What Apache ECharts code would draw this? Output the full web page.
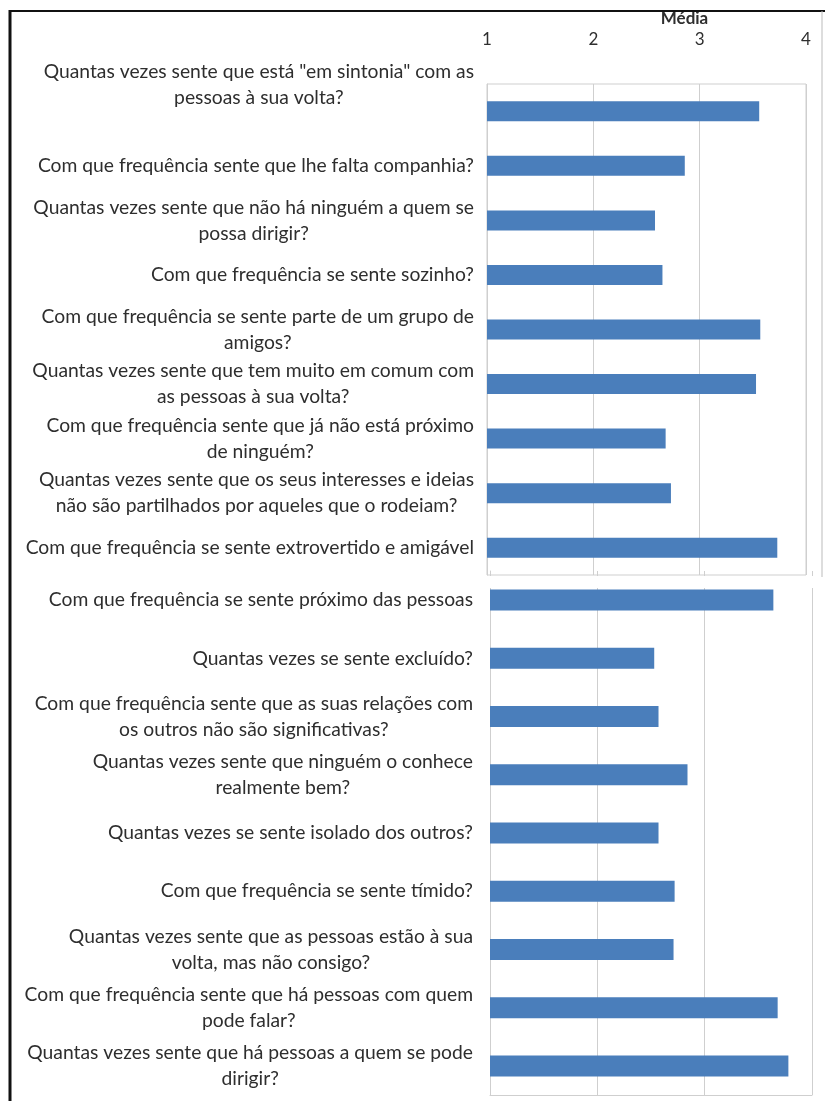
<!DOCTYPE html>
<html><head><meta charset="utf-8">
<script src="https://cdn.jsdelivr.net/npm/echarts@6/dist/echarts.min.js"></script>
<style>html,body{margin:0;padding:0;background:#fff}#c{width:825px;height:1101px}</style>
</head><body><div id="c"></div>
<script>
const categoriesTop = [
  'Quantas vezes sente que está "em sintonia" com as\npessoas à sua volta?',
  'Com que frequência sente que lhe falta companhia?',
  'Quantas vezes sente que não há ninguém a quem se\npossa dirigir?',
  'Com que frequência se sente sozinho?',
  'Com que frequência se sente parte de um grupo de\namigos?',
  'Quantas vezes sente que tem muito em comum com\nas pessoas à sua volta?',
  'Com que frequência sente que já não está próximo\nde ninguém?',
  'Quantas vezes sente que os seus interesses e ideias\nnão são partilhados por aqueles que o rodeiam?',
  'Com que frequência se sente extrovertido e amigável'
];
const valuesTop = [3.56, 2.86, 2.58, 2.65, 3.57, 3.53, 2.68, 2.73, 3.73];

const categoriesBottom = [
  'Com que frequência se sente próximo das pessoas',
  'Quantas vezes se sente excluído?',
  'Com que frequência sente que as suas relações com\nos outros não são significativas?',
  'Quantas vezes sente que ninguém o conhece\nrealmente bem?',
  'Quantas vezes se sente isolado dos outros?',
  'Com que frequência se sente tímido?',
  'Quantas vezes sente que as pessoas estão à sua\nvolta, mas não consigo?',
  'Com que frequência sente que há pessoas com quem\npode falar?',
  'Quantas vezes sente que há pessoas a quem se pode\ndirigir?'
];
const valuesBottom = [3.64, 2.53, 2.57, 2.84, 2.57, 2.72, 2.71, 3.68, 3.78];

const axisMin = 1, axisMax = 4, axisStep = 1;
const axisName = 'Média';

const FONT = 'Lato, "Open Sans", sans-serif';
const TXT = '#2e2e2e';
const GRIDC = '#cfcfcf';
const BAR = '#4a7ebb';

function centered(v) {
  return v.split('\n').map(l => '{c|' + l + '}').join('\n');
}
const labelRich = { c: { align: 'center', fontFamily: FONT, fontSize: 19.3, color: TXT, lineHeight: 26 } };

const chart = echarts.init(document.getElementById('c'), null, { renderer: 'canvas' });
chart.setOption({
  backgroundColor: '#fff',
  animation: false,
  grid: [
    { left: 487, right: 19, top: 84, height: 491, show: true, borderColor: GRIDC, borderWidth: 1, backgroundColor: 'transparent', z: 3 },
    { left: 490, right: 13, top: 571, height: 524, show: false, z: 0 }
  ],
  xAxis: [
    {
      gridIndex: 0, type: 'value', position: 'top', min: axisMin, max: axisMax, interval: axisStep, z: 3,
      name: axisName, nameLocation: 'middle', nameGap: 57,
      nameTextStyle: { fontFamily: FONT, fontSize: 17, fontWeight: 'bold', color: TXT, padding: [0, 0, 0, 76] },
      axisLine: { show: false }, axisTick: { show: false },
      axisLabel: { fontFamily: FONT, fontSize: 17, color: TXT, margin: 36 },
      splitLine: { show: true, lineStyle: { color: GRIDC, width: 1 } }
    },
    {
      gridIndex: 1, type: 'value', position: 'bottom', min: axisMin, max: axisMax, interval: axisStep, z: 0,
      axisLine: { show: true, lineStyle: { color: GRIDC } }, axisTick: { show: false },
      axisLabel: { show: false },
      splitLine: { show: true, lineStyle: { color: GRIDC, width: 1 } }
    }
  ],
  yAxis: [
    {
      gridIndex: 0, type: 'category', inverse: true, z: 3,
      data: categoriesTop.map((c, i) => i === 0 ? { value: c, textStyle: { padding: [0, 0, 52, 0] } } : c),
      axisLine: { show: true, lineStyle: { color: GRIDC } }, axisTick: { show: false },
      axisLabel: { margin: 13, interval: 0, align: 'right', formatter: centered, rich: labelRich }
    },
    {
      gridIndex: 1, type: 'category', inverse: true, z: 0,
      data: categoriesBottom,
      axisLine: { show: true, lineStyle: { color: GRIDC } }, axisTick: { show: false },
      axisLabel: { margin: 17, interval: 0, align: 'right', formatter: centered, rich: labelRich }
    }
  ],
  series: [
    { type: 'bar', xAxisIndex: 0, yAxisIndex: 0, data: valuesTop, barWidth: 20, itemStyle: { color: BAR }, z: 4 },
    { type: 'bar', xAxisIndex: 1, yAxisIndex: 1, data: valuesBottom, barWidth: 21, itemStyle: { color: BAR }, z: 4 }
  ],
  graphic: [
    { type: 'rect', z: 1, shape: { x: 484, y: 576, width: 341, height: 12 }, style: { fill: '#fff' } },
    { type: 'line', z: 10, shape: { x1: 10, y1: 11, x2: 825, y2: 11 }, style: { stroke: '#111', lineWidth: 2 } },
    { type: 'line', z: 10, shape: { x1: 10, y1: 10, x2: 10, y2: 1101 }, style: { stroke: '#111', lineWidth: 3 } },
    { type: 'line', z: 10, shape: { x1: 822, y1: 11, x2: 822, y2: 577 }, style: { stroke: '#bbb', lineWidth: 1 } }
  ]
});
</script>
</body></html>
